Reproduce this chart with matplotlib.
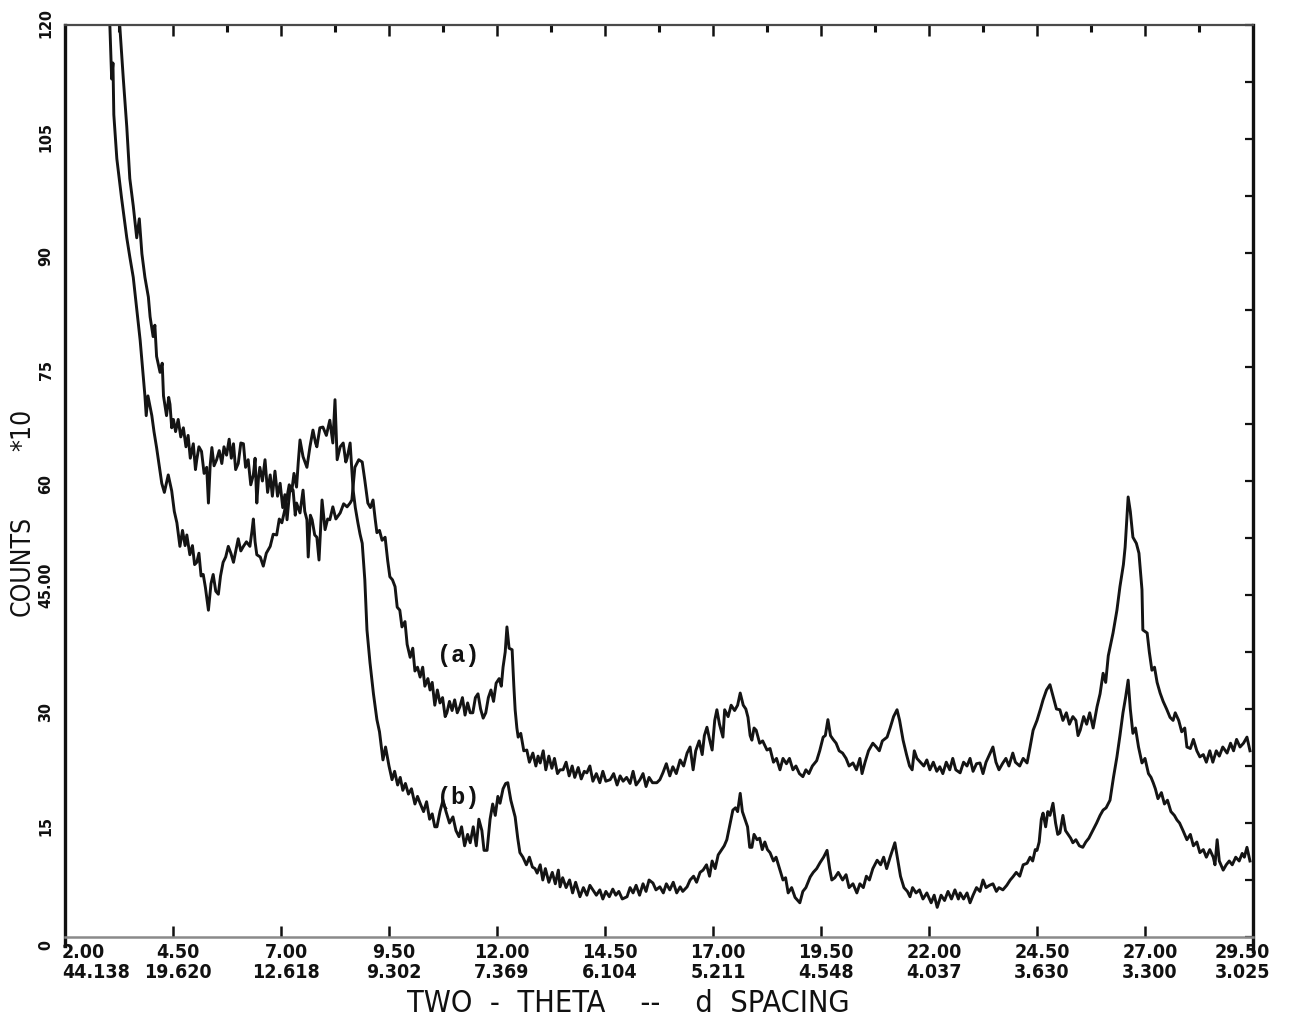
import matplotlib
matplotlib.use("Agg")
import matplotlib.pyplot as plt
import matplotlib.transforms as mtransforms
from matplotlib import font_manager
from matplotlib.ticker import MultipleLocator, NullFormatter, FixedLocator

# ---- diffraction traces (two-theta in degrees, counts / 10) ----
two_theta_a = [
    3.15, 3.27, 3.35, 3.43, 3.50, 3.58, 3.66, 3.72, 3.78, 3.85, 3.93, 3.97, 4.04, 4.08, 4.12, 4.20,
    4.25, 4.28, 4.35, 4.40, 4.43, 4.47, 4.51, 4.56, 4.62, 4.68, 4.74, 4.80, 4.85, 4.90, 4.97, 5.02,
    5.05, 5.10, 5.16, 5.22, 5.28, 5.32, 5.36, 5.40, 5.45, 5.51, 5.57, 5.63, 5.68, 5.74, 5.80, 5.85,
    5.90, 5.95, 6.01, 6.07, 6.13, 6.18, 6.24, 6.30, 6.36, 6.40, 6.44, 6.48, 6.51, 6.57, 6.63, 6.69,
    6.75, 6.80, 6.86, 6.92, 6.98, 7.04, 7.09, 7.14, 7.21, 7.28, 7.33, 7.36, 7.44, 7.51, 7.55, 7.60,
    7.63, 7.68, 7.72, 7.78, 7.83, 7.88, 7.95, 8.02, 8.08, 8.13, 8.20, 8.27, 8.37, 8.45, 8.53, 8.60,
    8.64, 8.71, 8.80, 8.88, 8.94, 9.01, 9.07, 9.13, 9.18, 9.22, 9.28, 9.34, 9.41, 9.47, 9.52, 9.58,
    9.64, 9.69, 9.75, 9.80, 9.87, 9.92, 9.99, 10.05, 10.10, 10.16, 10.22, 10.28, 10.33, 10.40, 10.45, 10.50,
    10.56, 10.62, 10.68, 10.74, 10.80, 10.84, 10.90, 10.96, 11.02, 11.08, 11.14, 11.20, 11.26, 11.32, 11.38, 11.44,
    11.50, 11.56, 11.62, 11.68, 11.74, 11.80, 11.86, 11.92, 11.98, 12.05, 12.10, 12.14, 12.19, 12.23, 12.28, 12.35,
    12.39, 12.42, 12.46, 12.49, 12.55, 12.62, 12.69, 12.75, 12.83, 12.90, 12.95, 13.00, 13.07, 13.13, 13.20, 13.27,
    13.33, 13.40, 13.46, 13.53, 13.60, 13.67, 13.74, 13.80, 13.88, 13.95, 14.02, 14.08, 14.15, 14.22, 14.30, 14.38,
    14.45, 14.52, 14.62, 14.70, 14.78, 14.85, 14.92, 15.00, 15.08, 15.15, 15.22, 15.31, 15.38, 15.45, 15.52, 15.60,
    15.70, 15.77, 15.84, 15.92, 16.00, 16.07, 16.15, 16.24, 16.32, 16.40, 16.47, 16.54, 16.60, 16.68, 16.75, 16.80,
    16.86, 16.92, 16.98, 17.04, 17.09, 17.15, 17.23, 17.27, 17.35, 17.42, 17.50, 17.57, 17.63, 17.70, 17.76, 17.81,
    17.86, 17.90, 17.95, 18.00, 18.08, 18.15, 18.25, 18.32, 18.40, 18.47, 18.55, 18.62, 18.70, 18.77, 18.85, 18.92,
    19.00, 19.08, 19.15, 19.22, 19.30, 19.40, 19.47, 19.55, 19.60, 19.66, 19.72, 19.78, 19.85, 19.92, 20.00, 20.08,
    20.15, 20.24, 20.32, 20.40, 20.45, 20.52, 20.60, 20.70, 20.78, 20.85, 20.92, 21.03, 21.10, 21.18, 21.26, 21.32,
    21.40, 21.48, 21.55, 21.61, 21.66, 21.72, 21.80, 21.88, 21.95, 22.02, 22.10, 22.18, 22.25, 22.32, 22.40, 22.48,
    22.55, 22.62, 22.72, 22.80, 22.88, 22.95, 23.02, 23.10, 23.18, 23.25, 23.32, 23.40, 23.48, 23.55, 23.62, 23.71,
    23.78, 23.85, 23.94, 24.00, 24.10, 24.18, 24.27, 24.34, 24.41, 24.50, 24.58, 24.64, 24.72, 24.80, 24.88, 24.95,
    25.03, 25.10, 25.18, 25.25, 25.33, 25.40, 25.45, 25.50, 25.58, 25.65, 25.72, 25.80, 25.89, 25.96, 26.03, 26.09,
    26.15, 26.26, 26.35, 26.42, 26.50, 26.54, 26.61, 26.66, 26.72, 26.80, 26.86, 26.93, 26.95, 27.05, 27.10, 27.16,
    27.22, 27.28, 27.35, 27.42, 27.50, 27.58, 27.65, 27.70, 27.78, 27.85, 27.92, 27.97, 28.05, 28.12, 28.20, 28.27,
    28.35, 28.42, 28.50, 28.57, 28.65, 28.72, 28.80, 28.90, 28.98, 29.05, 29.12, 29.20, 29.28, 29.36, 29.43,
]
counts_a = [
    128.0, 119.7, 112.9, 106.6, 99.8, 96.2, 92.0, 94.5, 89.9, 86.8, 84.2, 81.6, 79.0, 80.5, 76.4, 74.3,
    75.5, 71.2, 68.6, 71.0, 70.1, 67.0, 68.1, 66.5, 68.1, 65.8, 67.0, 64.5, 66.0, 63.0, 64.9, 61.5,
    62.8, 64.5, 63.9, 61.0, 61.8, 57.1, 62.0, 64.4, 62.0, 62.8, 64.0, 62.3, 64.5, 63.4, 65.5, 63.0,
    64.9, 61.5, 62.3, 65.0, 64.9, 61.8, 62.8, 59.5, 60.8, 63.0, 57.1, 60.5, 61.8, 60.0, 62.8, 58.5,
    60.8, 58.0, 61.3, 58.0, 59.7, 56.5, 58.2, 54.9, 59.2, 58.8, 55.5, 57.1, 55.8, 58.8, 56.0, 54.9,
    50.0, 55.5, 54.9, 52.9, 52.6, 49.6, 57.5, 53.6, 55.0, 54.9, 56.6, 55.0, 55.8, 57.0, 56.6, 57.1,
    57.5, 61.8, 62.8, 62.5, 60.1, 57.1, 56.5, 57.5, 55.0, 53.2, 53.5, 52.2, 52.6, 49.5, 47.4, 47.0,
    46.1, 43.4, 43.0, 40.8, 41.5, 38.5, 36.8, 38.0, 35.0, 35.5, 34.2, 35.5, 33.0, 34.0, 32.5, 33.5,
    30.5, 32.5, 30.8, 31.5, 29.0, 29.5, 31.0, 29.8, 31.2, 29.5, 30.3, 31.5, 29.2, 30.8, 29.5, 29.5,
    31.5, 32.0, 30.0, 28.8, 29.5, 31.5, 32.5, 31.0, 33.4, 34.0, 33.0, 35.5, 37.5, 40.8, 38.0, 37.8,
    33.0, 29.9, 27.5, 26.3, 26.8, 24.5, 24.6, 23.0, 24.2, 22.5, 23.8, 22.9, 24.5, 22.0, 23.8, 22.2,
    23.5, 21.5, 22.0, 22.0, 23.0, 21.2, 22.5, 21.0, 22.3, 20.8, 21.8, 21.6, 22.5, 20.5, 21.5, 20.3,
    21.8, 20.5, 20.7, 21.5, 20.0, 21.2, 20.5, 21.0, 20.2, 21.8, 20.0, 20.7, 21.5, 19.8, 21.0, 20.3,
    20.3, 20.7, 21.6, 22.8, 21.2, 22.4, 21.5, 23.3, 22.5, 24.2, 25.0, 22.0, 24.5, 25.8, 24.0, 26.5,
    27.6, 26.0, 24.6, 28.5, 29.9, 28.0, 26.3, 29.9, 29.0, 30.5, 29.8, 30.5, 32.1, 30.5, 30.0, 28.9,
    26.5, 25.9, 27.5, 27.2, 25.5, 25.8, 24.6, 24.8, 23.0, 23.5, 22.0, 23.5, 22.8, 23.5, 22.0, 22.5,
    21.5, 21.1, 22.0, 21.5, 22.5, 23.2, 24.5, 26.3, 26.5, 28.6, 26.5, 26.0, 25.5, 24.5, 24.2, 23.5,
    22.5, 22.9, 22.0, 23.5, 21.5, 23.0, 24.5, 25.5, 25.0, 24.5, 25.8, 26.3, 27.5, 29.0, 29.9, 28.5,
    25.9, 24.0, 22.5, 22.0, 24.5, 23.5, 23.0, 22.5, 23.3, 22.0, 23.0, 21.8, 22.4, 21.5, 23.0, 22.0,
    23.5, 22.0, 21.6, 23.0, 22.5, 23.5, 21.8, 22.8, 22.9, 21.5, 23.0, 24.0, 25.0, 23.0, 22.0, 22.9,
    23.5, 22.5, 24.2, 23.0, 22.5, 23.5, 22.9, 25.0, 27.2, 28.5, 30.0, 31.2, 32.5, 33.2, 31.5, 30.0,
    29.9, 28.5, 29.5, 28.0, 29.0, 28.5, 26.5, 27.2, 29.0, 28.0, 29.5, 27.5, 30.3, 32.0, 34.7, 33.5,
    37.0, 40.0, 43.0, 46.1, 49.0, 51.3, 57.9, 56.0, 52.6, 51.8, 50.5, 45.7, 40.4, 40.0, 37.5, 35.1,
    35.5, 33.5, 32.1, 31.0, 30.0, 28.9, 28.5, 29.5, 28.5, 27.0, 27.5, 25.0, 24.8, 26.0, 24.5, 23.7,
    24.0, 23.0, 24.5, 23.0, 24.5, 23.8, 25.0, 24.2, 25.5, 24.5, 26.0, 25.0, 25.5, 26.3, 24.5,
]

two_theta_b = [
    2.98, 3.04, 3.08, 3.11, 3.13, 3.20, 3.31, 3.43, 3.50, 3.58, 3.66, 3.74, 3.81, 3.85, 3.88, 3.92,
    4.01, 4.06, 4.12, 4.18, 4.24, 4.30, 4.39, 4.47, 4.53, 4.59, 4.66, 4.72, 4.78, 4.82, 4.89, 4.95,
    5.00, 5.05, 5.10, 5.15, 5.20, 5.25, 5.32, 5.38, 5.43, 5.49, 5.55, 5.60, 5.66, 5.72, 5.78, 5.84,
    5.90, 5.96, 6.01, 6.07, 6.13, 6.20, 6.28, 6.33, 6.36, 6.40, 6.44, 6.52, 6.59, 6.66, 6.75, 6.82,
    6.90, 6.96, 7.02, 7.08, 7.13, 7.19, 7.25, 7.30, 7.36, 7.40, 7.44, 7.51, 7.60, 7.67, 7.74, 7.80,
    7.83, 7.90, 7.97, 8.05, 8.13, 8.20, 8.25, 8.30, 8.37, 8.44, 8.50, 8.53, 8.60, 8.67, 8.72, 8.78,
    8.83, 8.88, 8.94, 8.99, 9.06, 9.14, 9.22, 9.28, 9.36, 9.42, 9.50, 9.57, 9.63, 9.70, 9.76, 9.82,
    9.88, 9.95, 10.02, 10.10, 10.16, 10.22, 10.30, 10.37, 10.44, 10.50, 10.56, 10.61, 10.68, 10.75, 10.82, 10.90,
    10.98, 11.05, 11.12, 11.18, 11.25, 11.32, 11.38, 11.45, 11.52, 11.58, 11.65, 11.70, 11.77, 11.84, 11.90, 11.96,
    12.02, 12.07, 12.14, 12.20, 12.25, 12.32, 12.42, 12.48, 12.53, 12.60, 12.68, 12.75, 12.82, 12.88, 12.93, 13.00,
    13.06, 13.12, 13.20, 13.28, 13.35, 13.42, 13.46, 13.52, 13.60, 13.68, 13.75, 13.82, 13.92, 14.00, 14.08, 14.15,
    14.22, 14.30, 14.38, 14.45, 14.52, 14.60, 14.68, 14.75, 14.82, 14.90, 15.01, 15.08, 15.15, 15.22, 15.30, 15.38,
    15.45, 15.52, 15.61, 15.68, 15.77, 15.85, 15.92, 16.00, 16.08, 16.16, 16.24, 16.30, 16.40, 16.47, 16.55, 16.62,
    16.70, 16.77, 16.85, 16.92, 16.98, 17.05, 17.12, 17.20, 17.26, 17.32, 17.40, 17.46, 17.52, 17.57, 17.63, 17.68,
    17.74, 17.80, 17.85, 17.90, 17.95, 18.02, 18.08, 18.14, 18.20, 18.26, 18.32, 18.40, 18.46, 18.55, 18.62, 18.68,
    18.74, 18.82, 18.90, 19.01, 19.08, 19.15, 19.25, 19.32, 19.40, 19.48, 19.56, 19.64, 19.70, 19.75, 19.82, 19.90,
    20.00, 20.08, 20.15, 20.24, 20.33, 20.40, 20.48, 20.55, 20.62, 20.70, 20.80, 20.88, 20.95, 21.02, 21.10, 21.21,
    21.28, 21.34, 21.42, 21.50, 21.56, 21.62, 21.70, 21.78, 21.86, 21.95, 22.05, 22.12, 22.19, 22.28, 22.36, 22.44,
    22.52, 22.60, 22.68, 22.72, 22.80, 22.88, 22.95, 23.02, 23.10, 23.18, 23.25, 23.32, 23.40, 23.48, 23.56, 23.62,
    23.71, 23.80, 23.88, 23.94, 24.02, 24.10, 24.18, 24.27, 24.34, 24.40, 24.46, 24.50, 24.55, 24.60, 24.64, 24.70,
    24.75, 24.80, 24.87, 24.93, 24.98, 25.03, 25.10, 25.16, 25.22, 25.28, 25.33, 25.40, 25.48, 25.56, 25.63, 25.70,
    25.80, 25.88, 25.96, 26.03, 26.10, 26.19, 26.27, 26.35, 26.42, 26.49, 26.55, 26.61, 26.66, 26.72, 26.78, 26.85,
    26.93, 27.00, 27.08, 27.14, 27.19, 27.24, 27.30, 27.38, 27.45, 27.52, 27.60, 27.68, 27.74, 27.80, 27.88, 27.97,
    28.05, 28.12, 28.20, 28.27, 28.35, 28.42, 28.50, 28.58, 28.62, 28.67, 28.72, 28.81, 28.88, 28.95, 29.02, 29.10,
    29.18, 29.25, 29.30, 29.36, 29.43,
]
counts_b = [
    128.0, 119.7, 112.9, 115.0, 108.2, 102.4, 97.2, 92.0, 89.5, 86.8, 82.6, 78.5, 73.8, 71.2, 68.6, 71.2,
    68.6, 66.5, 64.4, 62.0, 59.7, 58.5, 60.8, 58.7, 56.0, 54.5, 51.4, 53.5, 51.5, 52.9, 50.3, 51.5,
    49.0, 49.3, 50.5, 47.5, 47.7, 46.0, 43.0, 46.5, 47.7, 45.5, 45.1, 47.5, 49.3, 50.0, 51.4, 50.5,
    49.3, 51.0, 52.4, 50.8, 51.4, 52.0, 51.4, 53.5, 55.0, 52.0, 50.3, 50.0, 48.8, 50.5, 51.4, 53.0,
    52.9, 55.0, 54.5, 56.0, 57.6, 59.5, 58.7, 61.0, 59.2, 62.5, 65.4, 63.2, 61.8, 64.5, 66.7, 65.0,
    64.5, 67.0, 67.1, 66.0, 68.0, 65.0, 70.7, 62.8, 64.5, 65.0, 62.5, 63.0, 65.0, 58.8, 56.5, 54.5,
    53.0, 51.8, 47.0, 40.4, 36.1, 32.0, 28.6, 27.0, 23.3, 25.0, 22.5, 20.7, 21.8, 20.0, 21.0, 19.3,
    20.2, 18.8, 19.5, 17.5, 18.5, 17.6, 16.5, 17.8, 15.5, 16.2, 14.5, 14.5, 16.5, 18.0, 16.5, 15.0,
    15.8, 14.0, 13.2, 14.5, 12.0, 13.5, 12.4, 14.5, 12.0, 15.5, 14.0, 11.4, 11.4, 15.5, 17.5, 16.0,
    18.5, 17.6, 19.5, 20.2, 20.3, 18.0, 15.8, 13.0, 11.1, 10.5, 9.5, 10.5, 9.2, 9.0, 8.4, 9.5,
    7.5, 9.0, 7.2, 8.5, 7.0, 8.8, 6.6, 7.8, 6.5, 7.5, 5.8, 7.2, 5.3, 6.5, 5.5, 6.8,
    6.2, 5.5, 6.2, 5.0, 6.0, 5.3, 6.3, 5.5, 6.0, 5.0, 5.3, 6.5, 5.8, 6.8, 5.5, 7.0,
    6.0, 7.5, 7.1, 6.2, 6.6, 5.8, 7.0, 6.2, 7.2, 5.8, 6.6, 6.0, 6.6, 7.5, 8.0, 7.2,
    8.5, 8.8, 9.5, 8.0, 10.0, 9.0, 10.8, 11.5, 12.0, 12.8, 15.0, 16.7, 17.0, 16.5, 18.9, 16.5,
    15.5, 14.5, 11.8, 11.8, 13.5, 12.8, 13.0, 11.5, 12.5, 11.5, 11.1, 10.0, 10.5, 8.8, 7.5, 7.8,
    5.8, 6.5, 5.2, 4.5, 6.0, 6.5, 7.9, 8.5, 9.0, 9.8, 10.5, 11.4, 9.0, 7.5, 7.8, 8.5,
    7.5, 8.2, 6.5, 7.0, 5.8, 7.0, 6.5, 8.0, 7.5, 9.0, 10.1, 9.5, 10.5, 9.0, 10.5, 12.4,
    10.0, 8.0, 6.5, 6.0, 5.3, 6.5, 5.8, 6.2, 5.0, 5.8, 4.5, 5.5, 3.9, 5.5, 4.8, 6.0,
    5.0, 6.2, 5.0, 5.8, 5.0, 5.8, 4.5, 5.5, 6.5, 6.0, 7.5, 6.5, 6.8, 7.0, 6.0, 6.5,
    6.2, 6.8, 7.5, 7.9, 8.5, 8.0, 9.5, 9.7, 10.5, 10.0, 11.5, 11.4, 12.5, 15.5, 16.3, 14.5,
    16.5, 16.0, 17.6, 15.0, 13.5, 13.7, 16.0, 14.0, 13.5, 13.0, 12.4, 12.8, 12.0, 11.8, 12.5, 13.0,
    14.1, 15.0, 16.0, 16.7, 17.0, 18.0, 21.0, 23.7, 26.5, 29.5, 31.5, 33.8, 30.0, 26.8, 27.5, 25.0,
    22.9, 23.5, 21.5, 21.0, 20.3, 19.5, 18.2, 19.0, 17.5, 18.0, 16.5, 16.0, 15.4, 15.0, 14.0, 12.8,
    13.5, 12.0, 12.5, 11.1, 11.5, 10.5, 11.5, 10.5, 9.5, 12.8, 10.0, 8.8, 9.5, 10.0, 9.5, 10.5,
    10.0, 11.0, 10.5, 11.8, 10.0,
]

# ---- axis annotation ----
two_theta_ticks = [2.00, 4.50, 7.00, 9.50, 12.00, 14.50, 17.00, 19.50, 22.00, 24.50, 27.00, 29.50]
d_spacing_labels = ["44.138", "19.620", "12.618", "9.302", "7.369", "6.104",
                    "5.211", "4.548", "4.037", "3.630", "3.300", "3.025"]
count_ticks = [0, 15, 30, 45, 60, 75, 90, 105, 120]
count_tick_labels = ["0", "15", "30", "45.00", "60", "75", "90", "105", "120"]
trace_labels = ["(a)", "(b)"]
trace_label_pos = [(11.1, 37.1), (11.1, 18.4)]

available = {f.name for f in font_manager.fontManager.ttflist}
if "Liberation Sans Narrow" in available:
    narrow = dict(family="Liberation Sans Narrow")
else:
    narrow = dict(family="DejaVu Sans", stretch="condensed")

W, H = 1303, 1025
fig = plt.figure(figsize=(W / 100, H / 100), dpi=100)
fig.patch.set_facecolor("white")
ax = fig.add_axes([65 / W, 1 - 937 / H, (1253 - 65) / W, (937 - 25) / H])

ink = "#141414"
ax.plot(two_theta_a, counts_a, color=ink, lw=2.1, solid_joinstyle="round")
ax.plot(two_theta_b, counts_b, color=ink, lw=2.1, solid_joinstyle="round")
ax.set_xlim(2.0, 29.5)
ax.set_ylim(0, 120)

# frame: heavy sides, lighter top and bottom rules
for side in ("left", "right"):
    ax.spines[side].set_linewidth(2.4)
    ax.spines[side].set_color("#111111")
ax.spines["left"].set_bounds(-1.2, 120)
ax.spines["right"].set_bounds(-1.8, 120)
ax.spines["top"].set_linewidth(1.6)
ax.spines["top"].set_color("#4a4a4a")
ax.spines["bottom"].set_linewidth(1.8)
ax.spines["bottom"].set_color("#8a8a8a")

ax.xaxis.set_major_locator(FixedLocator(two_theta_ticks))
ax.xaxis.set_minor_locator(FixedLocator([t + 1.25 for t in two_theta_ticks[:-1]]))
ax.yaxis.set_major_locator(FixedLocator(count_ticks))
ax.yaxis.set_minor_locator(MultipleLocator(7.5))
ax.xaxis.set_major_formatter(NullFormatter())
ax.yaxis.set_major_formatter(NullFormatter())
ax.tick_params(axis="x", which="major", direction="in", length=8, width=1.8,
               color="#111111", top=True, bottom=True)
ax.tick_params(axis="x", which="minor", direction="in", length=5, width=2.2,
               color="#111111", top=True, bottom=False)
ax.tick_params(axis="y", which="both", direction="in", length=6, width=1.6,
               color="#111111", left=False, right=True)

px = lambda p: p / 100.0
x_trans = ax.get_xaxis_transform()
for i, (tt, dl) in enumerate(zip(two_theta_ticks, d_spacing_labels)):
    if i == 0:
        ha, dx = "left", -3
    elif i == len(two_theta_ticks) - 1:
        ha, dx = "right", 17
    else:
        ha, dx = "center", 5
    t1 = x_trans + mtransforms.ScaledTranslation(px(dx), px(-16), fig.dpi_scale_trans)
    t2 = x_trans + mtransforms.ScaledTranslation(px(dx), px(-35), fig.dpi_scale_trans)
    ax.text(tt, 0, f"{tt:.2f}", transform=t1, ha=ha, va="center",
            fontsize=14, fontweight="bold", color="#111111", **narrow)
    ax.text(tt, 0, dl, transform=t2, ha=ha, va="center",
            fontsize=14, fontweight="bold", color="#111111", **narrow)

y_trans = ax.get_yaxis_transform()
for v, lab in zip(count_ticks, count_tick_labels):
    tr = y_trans + mtransforms.ScaledTranslation(px(-19), px(-13), fig.dpi_scale_trans)
    ax.text(0, v, lab, transform=tr, rotation=90, ha="center", va="bottom",
            fontsize=11.5, fontweight="bold", color="#111111", **narrow)

# vertical axis title, two words separated by a gap
fig.text(23 / W, 1 - 566 / H, "COUNTS", rotation=90, ha="center", va="center",
         fontsize=19, color="#111111", **narrow)
fig.text(23 / W, 1 - 430 / H, "*10", rotation=90, ha="center", va="center",
         fontsize=19, color="#111111", **narrow)
fig.text(628 / W, 1 - 1003 / H, "TWO  -  THETA    --    d  SPACING", ha="center", va="center",
         fontsize=22, color="#111111", **narrow)

for lab, (lx, ly) in zip(trace_labels, trace_label_pos):
    ax.text(lx, ly, lab, ha="center", va="center", fontsize=17, fontweight="bold",
            family="Liberation Mono", color="#111111")

fig.savefig("out.png", dpi=100, facecolor="white")
